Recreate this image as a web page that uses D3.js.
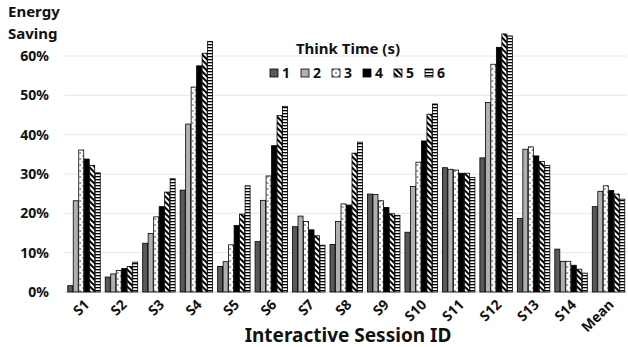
<!DOCTYPE html>
<html>
<head>
<meta charset="utf-8">
<script src="https://cdn.jsdelivr.net/npm/d3@7"></script>
<style>
  body { margin: 0; background: #fff; }
  text { font-family: "Noto Sans", "Open Sans", sans-serif; font-weight: bold; fill: #111; }
</style>
</head>
<body>
<svg id="chart" width="628" height="347"></svg>
<script>
const sessions = ['S1', 'S2', 'S3', 'S4', 'S5', 'S6', 'S7', 'S8', 'S9', 'S10', 'S11', 'S12', 'S13', 'S14', 'Mean'];
const thinkTimes = ['1', '2', '3', '4', '5', '6'];
// energy saving (%) for each think time, one array per think time
const t1 = [1.6, 3.8, 12.4, 25.9, 6.5, 12.8, 16.6, 12.1, 24.9, 15.2, 31.6, 34.1, 18.7, 10.9, 21.7];
const t2 = [23.2, 4.6, 14.9, 42.7, 7.7, 23.3, 19.3, 17.9, 24.8, 26.8, 31.2, 48.2, 36.3, 7.8, 25.6];
const t3 = [36.1, 5.5, 19.1, 52.1, 12.0, 29.5, 17.9, 22.4, 23.2, 33.0, 31.0, 57.9, 36.9, 7.8, 27.0];
const t4 = [33.8, 6.0, 21.7, 57.5, 16.9, 37.2, 15.8, 22.1, 21.5, 38.4, 30.2, 62.2, 34.6, 6.8, 25.8];
const t5 = [32.2, 6.5, 25.4, 60.7, 19.8, 44.9, 14.3, 35.3, 19.9, 45.2, 30.2, 65.6, 33.2, 5.8, 24.9];
const t6 = [30.3, 7.6, 28.8, 63.7, 27.0, 47.2, 11.9, 38.1, 19.5, 47.8, 29.1, 65.1, 32.2, 4.8, 23.6];
const yTicks = [0, 10, 20, 30, 40, 50, 60];

const series = [t1, t2, t3, t4, t5, t6];
const fills = ['#595959', '#b0b0b0', 'url(#p3)', '#000', 'url(#p5)', 'url(#p6)'];

const svg = d3.select('#chart');
const margin = {top: 56, right: 1, bottom: 55, left: 65};
const width = 628 - margin.left - margin.right;
const height = 347 - margin.top - margin.bottom;

// patterns
const defs = svg.append('defs');
const p3 = defs.append('pattern').attr('id', 'p3').attr('patternUnits', 'userSpaceOnUse')
  .attr('width', 6).attr('height', 6);
p3.append('rect').attr('width', 6).attr('height', 6).attr('fill', '#fff');
p3.append('line').attr('x1', 0).attr('x2', 2).attr('y1', 1).attr('y2', 1).attr('stroke', '#444').attr('stroke-width', 1);
p3.append('line').attr('x1', 3).attr('x2', 5).attr('y1', 4).attr('y2', 4).attr('stroke', '#444').attr('stroke-width', 1);

const p5 = defs.append('pattern').attr('id', 'p5').attr('patternUnits', 'userSpaceOnUse')
  .attr('width', 4).attr('height', 4).attr('patternTransform', 'rotate(-45)');
p5.append('rect').attr('width', 4).attr('height', 4).attr('fill', '#fff');
p5.append('rect').attr('width', 2).attr('height', 4).attr('fill', '#000');

const p6 = defs.append('pattern').attr('id', 'p6').attr('patternUnits', 'userSpaceOnUse')
  .attr('width', 4).attr('height', 3);
p6.append('rect').attr('width', 4).attr('height', 3).attr('fill', '#fff');
p6.append('rect').attr('width', 4).attr('height', 1.3).attr('fill', '#000');

const g = svg.append('g').attr('transform', `translate(${margin.left},${margin.top})`);

const x0 = d3.scaleBand().domain(sessions).range([0, width]).paddingInner(0.12).paddingOuter(0.06);
const x1 = d3.scaleBand().domain(thinkTimes).range([0, x0.bandwidth()]);
const y = d3.scaleLinear().domain([0, 60]).range([height, 0]);

// grid
g.append('g').selectAll('line').data(yTicks).join('line')
  .attr('x1', 0).attr('x2', width)
  .attr('y1', d => y(d)).attr('y2', d => y(d))
  .attr('stroke', d => d === 0 ? '#d0d0d0' : '#e6e6ec').attr('stroke-width', 1);

// y axis labels
const yAxis = g.append('g').call(d3.axisLeft(y).tickValues(yTicks).tickFormat(d => d + '%').tickSize(0).tickPadding(16));
yAxis.select('.domain').remove();
yAxis.selectAll('text').style('font-size', '14px').attr('fill', '#111');

// bars
const groups = g.append('g').selectAll('g').data(sessions).join('g')
  .attr('transform', d => `translate(${x0(d)},0)`);
groups.selectAll('rect')
  .data((d, i) => series.map((s, k) => ({k: thinkTimes[k], v: s[i]})))
  .join('rect')
  .attr('x', d => x1(d.k) + 0.5)
  .attr('y', d => y(d.v))
  .attr('width', x1.bandwidth() - 0.5)
  .attr('height', d => height - y(d.v))
  .attr('fill', (d, k) => fills[k])
  .attr('stroke', '#000').attr('stroke-width', 0.8);

// x labels
g.append('g').selectAll('text').data(sessions).join('text')
  .attr('transform', d => `translate(${x0(d) + x0.bandwidth() / 2 + 3},${height + 10}) rotate(-45)`)
  .attr('text-anchor', 'end').attr('dy', '0.35em')
  .style('font-size', '14px')
  .text(d => d);

// titles
svg.append('text').attr('x', 8).attr('y', 17).style('font-size', '15px').text('Energy');
svg.append('text').attr('x', 8).attr('y', 39).style('font-size', '15px').text('Saving');
svg.append('text').attr('x', 348).attr('y', 342).attr('text-anchor', 'middle').style('font-size', '19px')
  .text('Interactive Session ID');
svg.append('text').attr('x', 348).attr('y', 54).attr('text-anchor', 'middle').style('font-size', '15px')
  .text('Think Time (s)');

// legend
const legend = svg.append('g').attr('transform', 'translate(270,69)');
const item = legend.selectAll('g').data(thinkTimes).join('g')
  .attr('transform', (d, i) => `translate(${i * 31},0)`);
item.append('rect').attr('width', 8).attr('height', 8)
  .attr('fill', (d, i) => fills[i]).attr('stroke', '#000').attr('stroke-width', 0.8);
item.append('text').attr('x', 12).attr('y', 8.5).style('font-size', '14px').text(d => d);
</script>
</body>
</html>
